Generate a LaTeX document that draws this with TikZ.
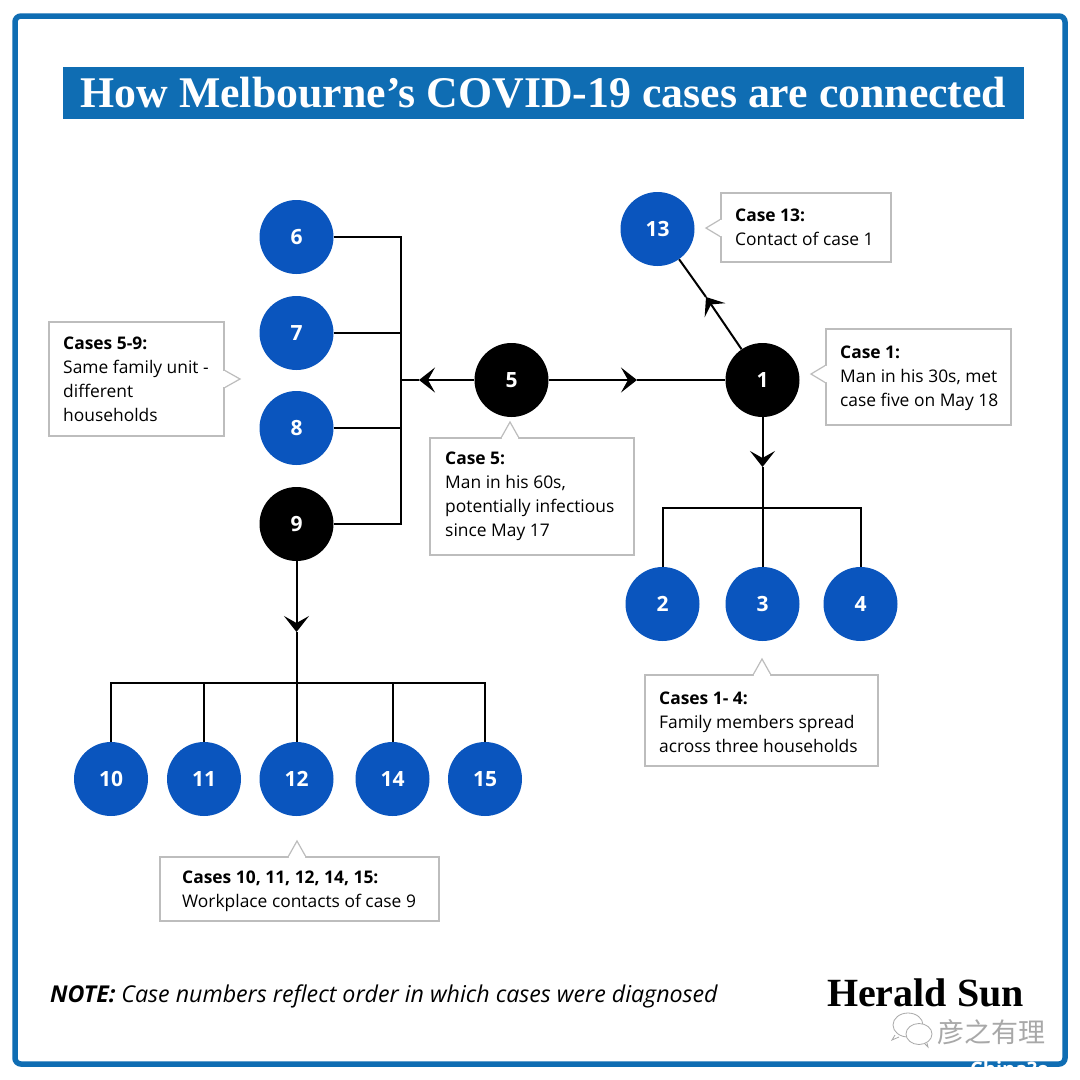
\documentclass[tikz,border=0pt]{standalone}
\usepackage{fontspec}
\setmainfont{Open Sans}
\newfontfamily\titlefont{Liberation Serif}
\newfontfamily\cjkfont{Noto Sans CJK SC}
\usetikzlibrary{arrows.meta}
\definecolor{frameblue}{HTML}{0F6DB3}
\definecolor{caseblue}{HTML}{0A55BE}
\definecolor{boxgrey}{HTML}{BDBDBD}
\definecolor{markgrey}{HTML}{A8A8A8}
\tikzset{
  casebase/.style={circle,minimum size=74pt,inner sep=0pt,text=white,font=\fontsize{21}{24}\selectfont\bfseries},
  bluecase/.style={casebase,fill=caseblue},
  blackcase/.style={casebase,fill=black},
  link/.style={draw=black,line width=2pt},
  tipped/.style={link,-{Stealth[length=16pt,width=25pt,inset=7pt]}},
  notebox/.style={draw=boxgrey,line width=1.2pt,fill=white,inner sep=0pt},
  notetext/.style={anchor=west,align=left,inner sep=0pt,font=\fontsize{17.4}{24}\selectfont,text=black},
  notetail/.style={draw=boxgrey,line width=1.2pt,fill=white,line join=miter},
  tailcover/.style={draw=white,line width=1.6pt}
}
\begin{document}
\begin{tikzpicture}[x=1pt,y=-1pt]
\useasboundingbox (0,0) rectangle (1080,1080);
\fill[white] (0,0) rectangle (1080,1080);
\draw[frameblue,line width=5.5pt,rounded corners=6pt] (15,16) rectangle (1065,1064);
\node[anchor=west,inner sep=0pt,text=white,font=\fontsize{20}{22}\selectfont\bfseries] (cut) at (970,1069) {China?o};
\node[fill=frameblue,minimum width=961pt,minimum height=52pt,inner sep=0pt,text=white,
  font=\titlefont\fontsize{43.8}{46}\selectfont\bfseries] (title) at (543.5,93) {How Melbourne’s COVID-19 cases are connected};

% cases
\foreach \n/\x/\y in {6/296.5/237,7/296.5/333,8/296.5/428,13/657.5/229,2/662.5/604,3/762.5/604,4/860.5/604,10/111/779,11/204/779,12/296.5/779,14/392.5/779,15/485/779}
  \node[bluecase] (c\n) at (\x,\y) {\n};
\foreach \n/\x/\y in {9/296.5/524,5/511.5/380,1/762.5/380}
  \node[blackcase] (c\n) at (\x,\y) {\n};

% junctions
\coordinate (b6) at (401,237);
\coordinate (b7) at (401,333);
\coordinate (b8) at (401,428);
\coordinate (b9) at (401,524);
\coordinate (b5) at (401,380);
\coordinate (t5l) at (419,380);
\coordinate (t5r) at (637,380);
\coordinate (t13) at (706,297);
\coordinate (t1d) at (762.5,467);
\coordinate (j2) at (662.5,508);
\coordinate (j4) at (860.5,508);
\coordinate (t9d) at (296.5,632);
\coordinate (j10) at (111,683);
\coordinate (j11) at (204,683);
\coordinate (j14) at (392.5,683);
\coordinate (j15) at (485,683);

% connectors
\draw[link] (c6) -- (b6) -- (b9) -- (c9);
\draw[link] (c7) -- (b7);
\draw[link] (c8) -- (b8);
\draw[tipped] (c5) -- (t5l);
\draw[link] (t5l) -- (b5);
\draw[tipped] (c5) -- (t5r);
\draw[link] (t5r) -- (c1);
\draw[tipped] (c1) -- (t13);
\draw[link] (t13) -- (c13);
\draw[tipped] (c1) -- (t1d);
\draw[link] (t1d) -- (c3);
\draw[link] (c2) -- (j2) -- (j4) -- (c4);
\draw[tipped] (c9) -- (t9d);
\draw[link] (t9d) -- (c12);
\draw[link] (c10) -- (j10) -- (j15) -- (c15);
\draw[link] (c11) -- (j11);
\draw[link] (c14) -- (j14);

% notes
\node[notebox,minimum width=170pt,minimum height=69pt] (n13) at (806,227.5) {};
\node[notetext] (n13t) at (735,227.5) {\textbf{Case 13:}\\Contact of case 1};
\draw[notetail] (721,219) -- (706,228) -- (721,237);
\draw[tailcover] (721,220) -- (721,236);

\node[notebox,minimum width=185pt,minimum height=96pt] (n1) at (918.5,377) {};
\node[notetext] (n1t) at (840,378) {\textbf{Case 1:}\\Man in his 30s, met\\case five on May 18};
\draw[notetail] (826,365) -- (811,374) -- (826,383);
\draw[tailcover] (826,366) -- (826,382);

\node[notebox,minimum width=175pt,minimum height=114pt] (n59) at (136.5,379) {};
\node[notetext] (n59t) at (63,379) {\textbf{Cases 5-9:}\\Same family unit -\\different\\households};
\draw[notetail] (224,370) -- (240,379) -- (224,388);
\draw[tailcover] (224,371) -- (224,387);

\node[notebox,minimum width=204pt,minimum height=117pt] (n5) at (532,496.5) {};
\node[notetext] (n5t) at (445,496.5) {\textbf{Case 5:}\\Man in his 60s,\\potentially infectious\\since May 17};
\draw[notetail] (501,438) -- (510,422) -- (519,438);
\draw[tailcover] (502,438) -- (518,438);

\node[notebox,minimum width=233pt,minimum height=91pt] (n14) at (761.5,720.5) {};
\node[notetext] (n14t) at (659,722.5) {\textbf{Cases 1- 4:}\\Family members spread\\across three households};
\draw[notetail] (753,675) -- (762,659) -- (771,675);
\draw[tailcover] (754,675) -- (770,675);

\node[notebox,minimum width=279pt,minimum height=64pt] (n10) at (299.5,889) {};
\node[notetext] (n10t) at (182,891) {\textbf{Cases 10, 11, 12, 14, 15:}\\Workplace contacts of case 9};
\draw[notetail] (288,857) -- (297,841) -- (306,857);
\draw[tailcover] (289,857) -- (305,857);

% footer
\node[anchor=west,inner sep=0pt,font=\fontsize{23.2}{26}\selectfont\itshape,text=black] (note) at (50,996) {\textbf{NOTE:} Case numbers reflect order in which cases were diagnosed};
\node[anchor=east,inner sep=0pt,font=\titlefont\fontsize{40}{44}\selectfont\bfseries,text=black] (brand) at (1024,993) {Herald Sun};

% watermark
\node[anchor=west,inner sep=0pt,font=\cjkfont\fontsize{27}{28}\selectfont,text=markgrey] (mark) at (937,1032) {彦之有理};
\begin{scope}[draw=markgrey,line width=0.8pt,fill=white]
\filldraw (908,1025) ellipse (15pt and 12pt);
\filldraw (919,1034) ellipse (13pt and 10.5pt);
\draw (895,1035) -- (892,1040) -- (899,1037);
\draw (925,1044) -- (928,1047) -- (927,1043);
\end{scope}
\end{tikzpicture}
\end{document}
